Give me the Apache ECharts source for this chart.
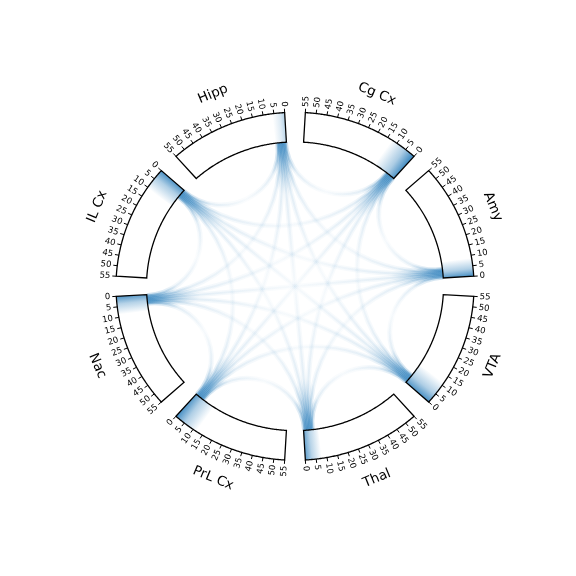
<!DOCTYPE html>
<html><head><meta charset="utf-8">
<script src="https://cdn.jsdelivr.net/npm/echarts@6/dist/echarts.min.js"></script>
<style>html,body{margin:0;padding:0;background:#fff}#c{width:576px;height:576px}</style>
</head><body><div id="c"></div>
<script>
// ---- data ----
const regions = ['Amy', 'Cg Cx', 'Hipp', 'IL Cx', 'Nac', 'PrL Cx', 'Thal', 'VTA'];
const tickValues = [0, 5, 10, 15, 20, 25, 30, 35, 40, 45, 50, 55];
const axisMax = 55;
// density fill near the 0 end of each region (extent in axis units, strength as opacity)
const fillExtent = [9, 13, 6, 11, 9, 12, 8, 12];
const fillStrength = [0.85, 0.9, 0.35, 0.85, 0.8, 0.85, 0.75, 0.85];
// connections (every pair of regions)
const linkFrom = [0,0,0,0,0,0,0, 1,1,1,1,1,1, 2,2,2,2,2, 3,3,3,3, 4,4,4, 5,5, 6];
const linkTo   = [1,2,3,4,5,6,7, 2,3,4,5,6,7, 3,4,5,6,7, 4,5,6,7, 5,6,7, 6,7, 7];
// where a link lands inside a region, by how many regions away (ccw) its partner is
const slotValues = [4.8, 4.1, 3.4, 2.7, 2.0, 1.3, 0.6];

// ---- layout ----
const CX = 295, CY = 286.3, SY = 0.972;
const R_IN = 148.5, R_OUT = 179, TICK = 4, LABEL_R = R_OUT + 6, NAME_R = 214;
const GAP = 9.5, PERIOD = axisMax + GAP, TOTAL = PERIOD * regions.length;
const BLUE = '49,130,189';
const FONT = 'DejaVu Sans';
function off(i) { return i * PERIOD + GAP / 2; }
function pt(api, r, v) { const p = api.coord([r, v]); return [p[0], CY + (p[1] - CY) * SY]; }
function deg(v) { return v / TOTAL * 360; }

function boxItem(params, api) {
  const i = params.dataIndex, o = off(i), pts = [];
  for (let v = 0; v <= axisMax + 1e-9; v += 0.5) pts.push(pt(api, R_OUT, o + v));
  for (let v = axisMax; v >= -1e-9; v -= 0.5) pts.push(pt(api, R_IN, o + v));
  return { type: 'polygon', shape: { points: pts }, style: { fill: 'none', stroke: '#000', lineWidth: 1.3 } };
}
function fillItem(params, api) {
  const i = params.dataIndex, o = off(i), e = fillExtent[i], s = fillStrength[i], pts = [];
  for (let v = 0; v <= e + 1e-9; v += 0.25) pts.push(pt(api, R_OUT, o + v));
  for (let v = e; v >= -1e-9; v -= 0.25) pts.push(pt(api, R_IN, o + v));
  const rm = (R_IN + R_OUT) / 2, a = pt(api, rm, o), b = pt(api, rm, o + e);
  return { type: 'polygon', shape: { points: pts }, style: { fill: {
    type: 'linear', x: a[0], y: a[1], x2: b[0], y2: b[1], global: true,
    colorStops: [{ offset: 0, color: `rgba(${BLUE},${s})` }, { offset: 0.4, color: `rgba(${BLUE},${s * 0.45})` }, { offset: 1, color: `rgba(${BLUE},0)` }]
  } } };
}
function slot(a, b) { const d = (b - a + regions.length) % regions.length; return slotValues[d - 1]; }
function linkGrad(p0, p3, k) {
  return { type: 'linear', x: p0[0], y: p0[1], x2: p3[0], y2: p3[1], global: true,
    colorStops: [{ offset: 0, color: `rgba(${BLUE},${0.6 * k})` }, { offset: 0.18, color: `rgba(${BLUE},${0.13 * k})` }, { offset: 0.5, color: `rgba(${BLUE},${0.04 * k})` },
                 { offset: 0.82, color: `rgba(${BLUE},${0.13 * k})` }, { offset: 1, color: `rgba(${BLUE},${0.6 * k})` }] };
}
function linkItem(params, api) {
  const k = params.dataIndex, a = linkFrom[k], b = linkTo[k];
  const va = off(a) + slot(a, b), vb = off(b) + slot(b, a);
  let t = Math.abs(deg(va) - deg(vb)) * Math.PI / 180;
  if (t > Math.PI) t = 2 * Math.PI - t;
  const L = (Math.PI - t) < 1e-3 ? 2 / 3 * R_IN : 4 / 3 * Math.tan((Math.PI - t) / 4) * R_IN * Math.tan(t / 2);
  const p0 = pt(api, R_IN, va), p3 = pt(api, R_IN, vb), p1 = pt(api, R_IN - L, va), p2 = pt(api, R_IN - L, vb);
  const shape = { x1: p0[0], y1: p0[1], x2: p3[0], y2: p3[1], cpx1: p1[0], cpy1: p1[1], cpx2: p2[0], cpy2: p2[1] };
  return { type: 'group', children: [
    { type: 'bezierCurve', shape, style: { fill: 'none', lineWidth: 5, stroke: linkGrad(p0, p3, 0.45) } },
    { type: 'bezierCurve', shape, style: { fill: 'none', lineWidth: 2, stroke: linkGrad(p0, p3, 0.6) } }
  ] };
}
function tickItem(params, api) {
  const i = params.dataIndex, o = off(i), children = [];
  tickValues.forEach(t => {
    const v = o + t, p0 = pt(api, R_OUT, v), p1 = pt(api, R_OUT + TICK, v), pl = pt(api, LABEL_R, v);
    children.push({ type: 'line', shape: { x1: p0[0], y1: p0[1], x2: p1[0], y2: p1[1] }, style: { stroke: '#000', lineWidth: 1 } });
    const a = deg(v), right = Math.cos(a * Math.PI / 180) >= 0;
    children.push({ type: 'text', x: pl[0], y: pl[1], rotation: (right ? a : a - 180) * Math.PI / 180,
      style: { text: String(t), fill: '#000', font: `8.5px "${FONT}"`, align: right ? 'left' : 'right', verticalAlign: 'middle' } });
  });
  const vm = o + axisMax / 2, am = deg(vm), pn = pt(api, NAME_R, vm);
  children.push({ type: 'text', x: pn[0], y: pn[1], rotation: (am < 180 ? am - 90 : am - 270) * Math.PI / 180,
    style: { text: regions[i], fill: '#000', font: `13.5px "${FONT}"`, align: 'center', verticalAlign: 'middle' } });
  return { type: 'group', children };
}

const regionData = regions.map((_, i) => [0, i]);
const linkData = linkFrom.map((_, k) => [0, k]);
const chart = echarts.init(document.getElementById('c'));
chart.setOption({
  animation: false,
  backgroundColor: '#fff',
  polar: { center: [CX, CY], radius: 200 },
  angleAxis: { type: 'value', min: 0, max: TOTAL, startAngle: 0, clockwise: false, show: false },
  radiusAxis: { type: 'value', min: 0, max: 200, show: false },
  series: [
    { type: 'custom', coordinateSystem: 'polar', renderItem: linkItem, data: linkData, z: 1, silent: true },
    { type: 'custom', coordinateSystem: 'polar', renderItem: fillItem, data: regionData, z: 2, silent: true },
    { type: 'custom', coordinateSystem: 'polar', renderItem: boxItem, data: regionData, z: 3, silent: true },
    { type: 'custom', coordinateSystem: 'polar', renderItem: tickItem, data: regionData, z: 4, silent: true }
  ]
});
</script></body></html>
